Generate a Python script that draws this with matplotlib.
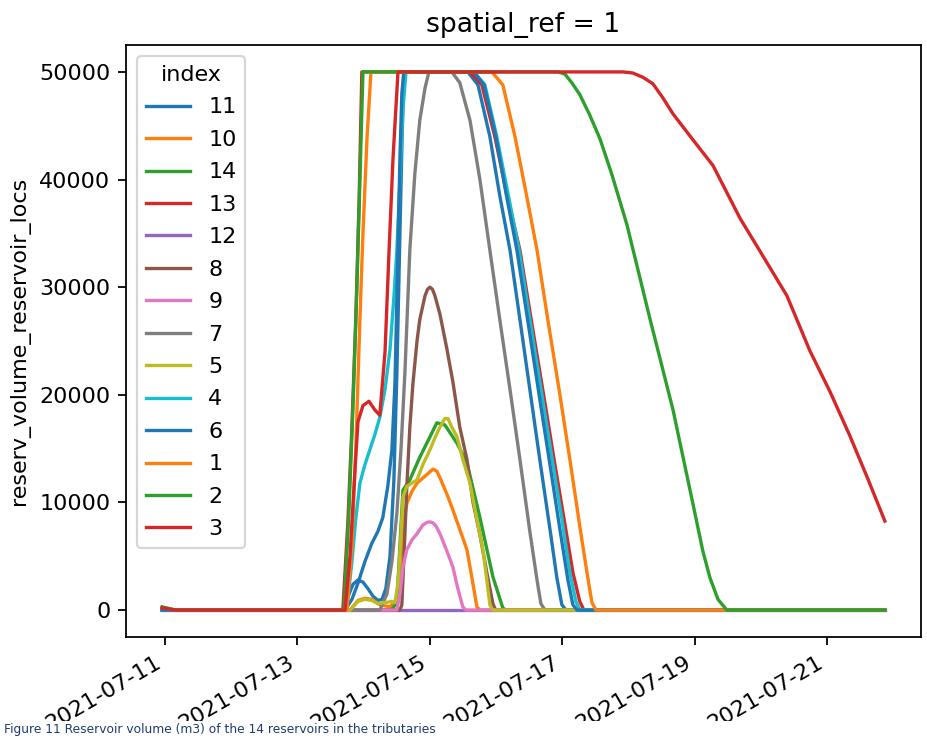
import pandas as pd
import matplotlib
matplotlib.use('Agg')
import matplotlib.pyplot as plt
import matplotlib.dates as mdates
from matplotlib.patches import Rectangle

# hours since 2021-07-11 00:00 and reservoir volume for each index
start = pd.Timestamp('2021-07-11 00:00')

h_11 = [-1, 64.5, 66.3, 68.2, 70.0, 71.8, 73.6, 75.4, 77.2, 78.7, 80.1, 81.6, 83.0, 84.1, 85.2, 85.9, 86.6,
        109.8, 113.5, 117.8, 121.4, 125.1, 128.7, 132.3, 135.9, 139.6, 142.1, 143.9, 145.4, 261]
v_11 = [0, 0, 1200, 2400, 2800, 2600, 2000, 1300, 900, 1000, 2000, 5000, 12000, 22000, 35000, 43000, 50000,
        50000, 48800, 44000, 38500, 33450, 27000, 20500, 14000, 7500, 3000, 500, 0, 0]

h_10 = [-1, 67.1, 70.0, 72.5, 75.0, 77.9, 81.6, 84.1, 85.2, 86.3, 87.7, 89.5, 91.4, 95.0, 97.2, 98.6, 99.7,
        102.2, 104.4, 106.9, 109.5, 111.3, 113.1, 114.2, 261]
v_10 = [0, 0, 900, 1100, 1000, 500, 300, 1000, 3500, 7500, 9900, 11000, 11800, 12600, 13100, 12900, 12300,
        10800, 9300, 7500, 5600, 3000, 300, 0, 0]

h_14 = [-1, 82.0, 84.1, 85.2, 86.3, 88.8, 92.4, 96.1, 98.6, 101.5, 105.9, 109.5, 114.2, 118.9, 122.5, 123.6, 261]
v_14 = [0, 0, 650, 6000, 11150, 12100, 14200, 16100, 17400, 17200, 15500, 13700, 8600, 3100, 200, 0, 0]

h_13 = [-1, 64.5, 66.3, 67.8, 69.2, 70.4, 71.4, 110.6, 114.9, 119.6, 124.0, 128.7, 133.1, 137.8, 141.4,
        145.0, 147.9, 150.4, 151.9, 261]
v_13 = [0, 0, 8000, 17000, 27000, 38000, 50000, 50000, 48800, 44000, 38600, 33450, 26500, 19200, 13500,
        8000, 3500, 800, 0, 0]

h_12 = [-1, 261]
v_12 = [0, 0]

h_8 = [-1, 85.2, 85.9, 87.0, 87.7, 88.8, 89.9, 91.4, 92.4, 94.3, 95.2, 96.1, 97.0, 97.9, 99.7, 102.2, 104.4,
       106.9, 109.5, 111.7, 114.2, 116.7, 118.9, 119.9, 261]
v_8 = [0, 0, 500, 7000, 11500, 17000, 21000, 25000, 27000, 29200, 29800, 30000, 29800, 29200, 27500, 24300,
       21200, 17000, 14000, 10000, 7000, 3500, 600, 0, 0]

h_9 = [-1, 84.1, 85.2, 86.3, 87.7, 89.5, 91.4, 93.5, 95.0, 96.1, 97.2, 98.3, 99.7, 102.2, 104.4, 106.2, 108.0,
       109.1, 261]
v_9 = [0, 0, 1500, 4000, 5600, 6500, 7100, 7900, 8150, 8200, 8100, 7800, 7100, 5500, 4000, 2000, 300, 0, 0]

h_7 = [-1, 77.9, 80.5, 82.3, 84.1, 85.6, 87.0, 88.8, 90.6, 92.4, 94.3, 95.7, 104.0, 106.9, 110.6, 114.2,
       117.8, 121.4, 125.1, 128.7, 132.3, 134.9, 136.3, 137.8, 261]
v_7 = [0, 0, 1500, 4500, 9000, 15000, 22000, 33500, 40500, 45500, 48500, 50000, 50000, 49000, 45500, 40000,
       33450, 27000, 20500, 14000, 7300, 2800, 600, 0, 0]

h_5 = [-1, 67.1, 70.0, 72.5, 75.0, 77.2, 79.8, 82.3, 83.4, 84.5, 85.6, 86.3, 87.7, 91.4, 93.5, 96.1, 97.9,
       99.7, 101.5, 102.6, 104.0, 105.9, 108.0, 110.6, 112.8, 115.3, 116.7, 117.8, 118.9, 261]
v_5 = [0, 0, 800, 1000, 900, 600, 700, 800, 700, 2500, 7000, 10500, 11500, 12100, 13500, 14900, 16000,
       17000, 17800, 17800, 17000, 16100, 14000, 11800, 8800, 5600, 2800, 500, 0, 0]

h_4 = [-1, 65.3, 66.3, 67.8, 69.2, 70.7, 72.5, 74.3, 76.1, 77.9, 79.8, 81.6, 83.0, 84.1, 85.2, 86.3, 87.4,
       112.0, 116.0, 120.3, 124.3, 128.4, 132.3, 136.7, 140.3, 143.9, 146.8, 149.0, 150.4, 261]
v_4 = [0, 0, 1000, 4500, 8500, 11800, 13500, 14900, 16300, 17900, 20500, 24200, 29000, 33450, 40000, 46500, 50000,
       50000, 48800, 44000, 38800, 33450, 27000, 20000, 14200, 8500, 3500, 800, 0, 0]

h_6 = [-1, 65.3, 67.8, 70.0, 72.5, 75.0, 77.2, 79.0, 80.8, 82.3, 83.4, 84.5, 85.2, 85.9, 86.6,
       112.0, 115.7, 120.0, 123.6, 127.6, 131.6, 135.9, 139.6, 143.2, 146.1, 147.9, 149.4, 261]
v_6 = [0, 0, 1000, 2500, 4500, 6200, 7300, 8600, 11500, 14900, 21100, 33450, 42000, 48000, 50000,
       50000, 48800, 44000, 38800, 33450, 26800, 19600, 13500, 7500, 2800, 500, 0, 0]

h_1 = [-1, 4, 66.0, 67.8, 69.2, 70.7, 71.8, 73.3, 74.7, 118.5, 122.5, 126.9, 130.9, 134.9, 138.8, 143.2,
       146.8, 150.4, 153.0, 154.8, 156.3, 261]
v_1 = [250, 0, 0, 6000, 15000, 27000, 35000, 44000, 50000, 50000, 48800, 44000, 38800, 33450, 27000, 20000,
       14000, 7800, 3500, 700, 0, 0]

h_2 = [-1, 4, 64.9, 66.7, 68.2, 69.6, 70.7, 71.8, 142.5, 145.0, 147.5, 150.4, 154.0, 157.7, 162.0, 167.5,
       175.8, 184.2, 191.4, 195.0, 197.6, 200.5, 203.7, 261]
v_2 = [300, 0, 0, 9000, 19000, 30000, 40000, 50000, 50000, 49800, 49000, 47900, 46000, 43800, 40500, 35800,
       27100, 18600, 9900, 5500, 3000, 1000, 0, 0]

h_3 = [-1, 4, 65.3, 67.1, 68.9, 70.0, 71.8, 74.0, 76.1, 77.9, 79.8, 81.2, 82.7, 84.5, 166.0, 169.6, 173.3,
       176.9, 180.5, 184.2, 191.4, 198.7, 208.5, 218.2, 225.5, 233.8, 241.1, 248.3, 254.5, 261]
v_3 = [200, 0, 0, 5000, 13000, 17500, 19000, 19400, 18600, 18100, 24000, 33000, 42000, 50000, 50000, 49900,
       49500, 48900, 47600, 46100, 43700, 41300, 36400, 32300, 29200, 24100, 20300, 16200, 12400, 8270]

labels = ['11', '10', '14', '13', '12', '8', '9', '7', '5', '4', '6', '1', '2', '3']
hours = [h_11, h_10, h_14, h_13, h_12, h_8, h_9, h_7, h_5, h_4, h_6, h_1, h_2, h_3]
volumes = [v_11, v_10, v_14, v_13, v_12, v_8, v_9, v_7, v_5, v_4, v_6, v_1, v_2, v_3]
tick_dates = ['2021-07-11', '2021-07-13', '2021-07-15', '2021-07-17', '2021-07-19', '2021-07-21']

fig = plt.figure(figsize=(927 / 160, 738 / 160), dpi=160)
ax = fig.add_axes([126 / 927, 1 - 637 / 738, 795 / 927, 592 / 738])

for lab, h, v in zip(labels, hours, volumes):
    t = (start + pd.to_timedelta(h, unit='h')).to_numpy()
    ax.plot(t, v, label=lab)

ax.legend(title='index', loc='upper left', labelspacing=0.56)
ax.set_title('spatial_ref = 1')
ax.set_ylabel('reserv_volume_reservoir_locs')
ax.set_xticks(pd.to_datetime(tick_dates).to_numpy())
ax.xaxis.set_major_formatter(mdates.DateFormatter('%Y-%m-%d'))
for lbl in ax.get_xticklabels():
    lbl.set_rotation(30)
    lbl.set_horizontalalignment('right')

# bottom of the page: figure cut off, caption starts below
fig.patches.append(Rectangle((0, 0), 1, 17 / 738, transform=fig.transFigure,
                             facecolor='white', edgecolor='none', zorder=10))
fig.text(4 / 927, 1.5 / 738, 'Figure 11 Reservoir volume (m3) of the 14 reservoirs in the tributaries',
         va='bottom', ha='left', fontsize=5.5, color='#1f3b6e', zorder=11)

fig.savefig('out.png', dpi=160)
